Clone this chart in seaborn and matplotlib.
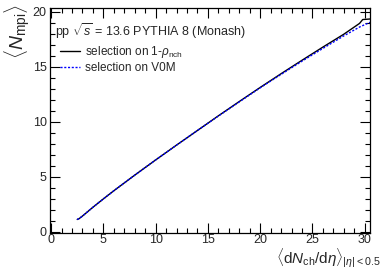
import matplotlib
matplotlib.use("Agg")
import matplotlib.pyplot as plt
import seaborn as sns
import pandas as pd
from matplotlib.ticker import MultipleLocator

# data
x_rho = [2.5, 2.7, 3.0, 4.0, 5.0, 6.0, 8.0, 10.0, 12.0, 14.0, 16.0, 18.0, 20.0, 22.0, 24.0, 26.0, 28.0, 29.5, 29.8, 30.5]
y_rho = [1.13, 1.22, 1.44, 2.24, 3.0, 3.74, 5.16, 6.54, 7.89, 9.22, 10.55, 11.85, 13.13, 14.38, 15.6, 16.8, 17.97, 18.95, 19.3, 19.35]
x_v0m = [2.5, 2.7, 3.0, 4.0, 5.0, 6.0, 8.0, 10.0, 12.0, 14.0, 16.0, 18.0, 20.0, 22.0, 24.0, 26.0, 28.0, 29.5, 30.5]
y_v0m = [1.13, 1.22, 1.44, 2.24, 3.0, 3.74, 5.16, 6.54, 7.89, 9.22, 10.53, 11.82, 13.1, 14.32, 15.52, 16.68, 17.82, 18.62, 19.05]

sns.set_theme(style="ticks")
plt.rcParams['font.family'] = ['Liberation Sans', 'DejaVu Sans']
plt.rcParams['mathtext.fontset'] = 'custom'
plt.rcParams['mathtext.rm'] = 'Liberation Sans'
plt.rcParams['mathtext.it'] = 'Liberation Sans:italic'
plt.rcParams['mathtext.bf'] = 'Liberation Sans:bold'

fig = plt.figure(figsize=(3.82, 2.70), dpi=100)
ax = fig.add_axes([0.1296, 0.137, 0.9686 - 0.1296, 0.9704 - 0.137])

df1 = pd.DataFrame({"x": x_rho, "y": y_rho})
df2 = pd.DataFrame({"x": x_v0m, "y": y_v0m})
sns.lineplot(data=df1, x="x", y="y", ax=ax, color="black", lw=1.0,
             label=r"selection on 1-$\rho_{\rm nch}$", estimator=None, sort=False)
sns.lineplot(data=df2, x="x", y="y", ax=ax, color="#0000ff", lw=1.0,
             linestyle=(0, (1.5, 1.2)), label="selection on V0M", estimator=None, sort=False)

ax.set_xlim(-0.15, 30.5)
ax.set_ylim(-0.1, 20.35)
ax.xaxis.set_major_locator(MultipleLocator(5))
ax.xaxis.set_minor_locator(MultipleLocator(1))
ax.yaxis.set_major_locator(MultipleLocator(5))
ax.yaxis.set_minor_locator(MultipleLocator(1))
ax.tick_params(which="both", direction="in", top=True, right=True, labelsize=9, pad=2, width=0.8, color="black")
ax.tick_params(axis="x", pad=1)
ax.tick_params(which="major", length=7)
ax.tick_params(which="minor", length=3.5)
for s in ax.spines.values():
    s.set_linewidth(0.9)
    s.set_color("black")
ax.set_xlabel("")
ax.set_ylabel("")

fig.text(0.995, 0.0, r"$\langle{\rm d}N_{\rm ch}/{\rm d}\eta\rangle_{|\eta|<0.5}$",
         ha="right", va="bottom", fontsize=11)
fig.text(0.006, 0.985, r"$\langle N_{\rm mpi}\rangle$", rotation=90,
         ha="left", va="top", fontsize=14)

ax.text(0.017, 0.897, r"pp $\sqrt{s}$ = 13.6 PYTHIA 8 (Monash)", transform=ax.transAxes,
        fontsize=9, ha="left", va="center")
leg = ax.legend(loc="upper left", bbox_to_anchor=(0.01, 0.872), frameon=False,
                fontsize=8.5, handlelength=1.7, handletextpad=0.4, labelspacing=0.2,
                borderaxespad=0.2)

fig.savefig("out.png", dpi=100)
